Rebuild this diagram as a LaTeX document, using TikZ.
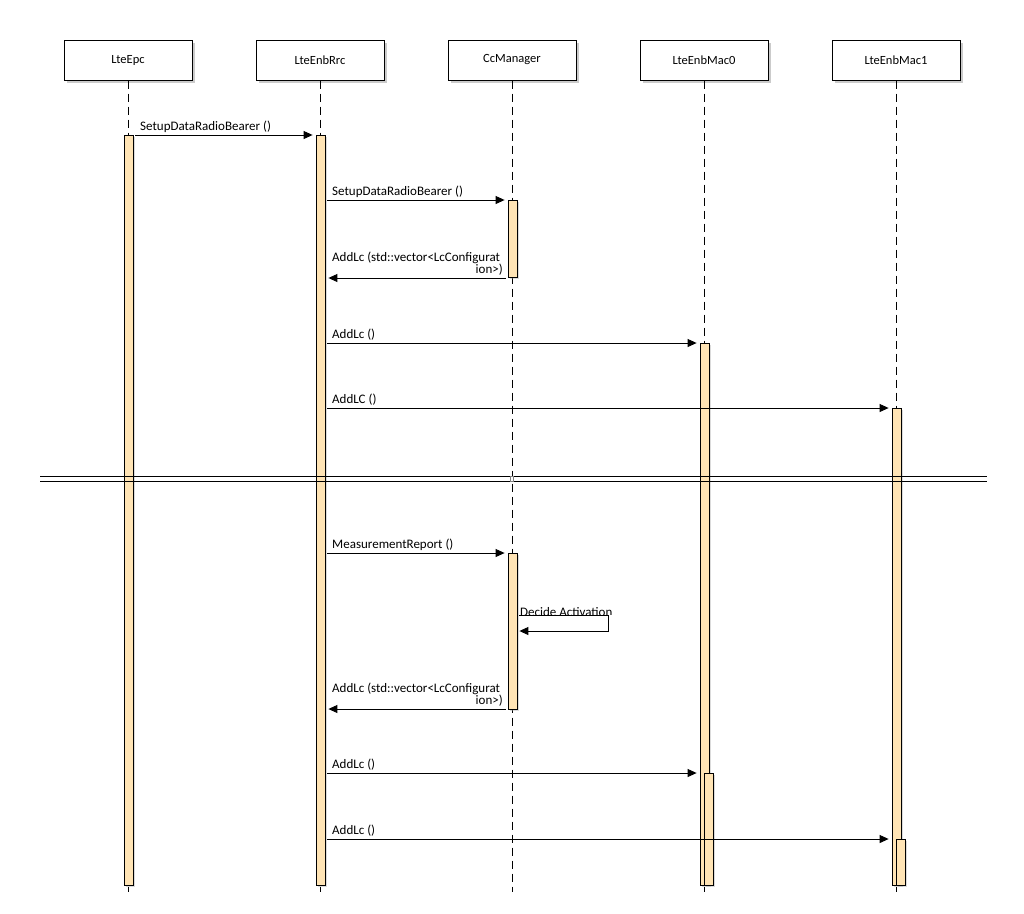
\documentclass[tikz,border=0pt]{standalone}
\usepackage{fontspec}
\setmainfont{Carlito}
\usetikzlibrary{arrows.meta,shadows}
\definecolor{barfill}{RGB}{255,228,181}
\begin{document}
\begin{tikzpicture}[x=1pt,y=-1pt,
  head/.style={draw,line width=1pt,fill=white,minimum width=128pt,minimum height=40pt,inner sep=0pt,
    font=\fontsize{12.5}{14}\selectfont,
    drop shadow={shadow xshift=3pt,shadow yshift=-3pt,fill=black!45,opacity=0.45}},
  life/.style={line width=0.8pt,dash pattern=on 8pt off 5pt},
  bar/.style={draw,line width=0.8pt,fill=barfill,minimum width=9pt,inner sep=0pt,anchor=north,
    drop shadow={shadow xshift=2pt,shadow yshift=-2pt,fill=black!35,opacity=0.4}},
  msg/.style={line width=0.9pt,-{Triangle[length=9pt,width=8pt]}},
  lbl/.style={anchor=base west,inner sep=0pt,font=\fontsize{13}{15}\selectfont},
  lblr/.style={anchor=base east,inner sep=0pt,font=\fontsize{13}{15}\selectfont},
  sep/.style={line width=1pt}
]
\useasboundingbox (0,0) rectangle (1024,913);
\fill[white] (0,0) rectangle (1024,913);

% headers
\node[head] (epc) at (128,60) {LteEpc};
\node[head] (rrc) at (320,60) {LteEnbRrc};
\node[head] (cc)  at (512,60) {CcManager};
\node[head] (mac0) at (704,60) {LteEnbMac0};
\node[head] (mac1) at (896,60) {LteEnbMac1};

% lifelines
\coordinate (epcE) at (128,892);
\coordinate (rrcE) at (320,892);
\coordinate (ccE) at (512,892);
\coordinate (mac0E) at (704,892);
\coordinate (mac1E) at (896,892);
\draw[life] (epc.south) -- (epcE);
\draw[life] (rrc.south) -- (rrcE);
\draw[life] (cc.south) -- (ccE);
\draw[life] (mac0.south) -- (mac0E);
\draw[life] (mac1.south) -- (mac1E);

% activation bars
\node[bar,minimum height=750pt] (epcA) at (128.5,135) {};
\node[bar,minimum height=750pt] (rrcA) at (320.5,135) {};
\node[bar,minimum height=77pt] (ccA) at (512.5,200) {};
\node[bar,minimum height=156pt] (ccB) at (512.5,553) {};
\node[bar,minimum height=542pt] (mac0A) at (704.5,343) {};
\node[bar,minimum height=112pt] (mac0B) at (708.5,773) {};
\node[bar,minimum height=477pt] (mac1A) at (896.5,408) {};
\node[bar,minimum height=46pt] (mac1B) at (900.5,839) {};

% messages
\draw[msg,shorten <=2pt,shorten >=3pt] (epcA.east |- 0,135) -- (rrcA.west |- 0,135);
\node[lbl] (l1) at (140,130) {SetupDataRadioBearer ()};

\draw[msg,shorten <=2pt,shorten >=3pt] (rrcA.east |- 0,200) -- (ccA.west |- 0,200);
\node[lbl] (l2) at (332,195) {SetupDataRadioBearer ()};

\draw[msg,shorten <=2pt,shorten >=3pt] (ccA.west |- 0,278) -- (rrcA.east |- 0,278);
\node[lbl] (l3a) at (332,261) {AddLc (std::vector<LcConfigurat};
\node[lblr] (l3b) at (503,273) {ion>)};

\draw[msg,shorten <=2pt,shorten >=3pt] (rrcA.east |- 0,343) -- (mac0A.west |- 0,343);
\node[lbl] (l4) at (332,338) {AddLc ()};

\draw[msg,shorten <=2pt,shorten >=3pt] (rrcA.east |- 0,408) -- (mac1A.west |- 0,408);
\node[lbl] (l5) at (332,403) {AddLC ()};

% separator
\coordinate (s1a) at (40,476.5);
\coordinate (s1b) at (987,476.5);
\coordinate (s2a) at (40,481);
\coordinate (s2b) at (987,481);
\draw[sep] (s1a) -- (s1b);
\draw[sep] (s2a) -- (s2b);
\draw[black!50,fill=white,line width=0.5pt] (510.5,476.5) rectangle (513.5,481);

\draw[msg,shorten <=2pt,shorten >=3pt] (rrcA.east |- 0,553) -- (ccB.west |- 0,553);
\node[lbl] (l7) at (332,548) {MeasurementReport ()};

% self message
\begin{scope}
\clip (515,590) rectangle (640,614.8);
\node[lbl] (l8) at (520,616.5) {Decide Activation};
\end{scope}
\coordinate (selfA) at (608,615);
\coordinate (selfB) at (608,631);
\draw[msg,shorten <=2pt,shorten >=2pt] (ccB.east |- 0,615) -- (selfA) -- (selfB) -- (ccB.east |- 0,631);

\draw[msg,shorten <=2pt,shorten >=3pt] (ccB.west |- 0,709) -- (rrcA.east |- 0,709);
\node[lbl] (l9a) at (332,692) {AddLc (std::vector<LcConfigurat};
\node[lblr] (l9b) at (503,704) {ion>)};

\draw[msg,shorten <=2pt,shorten >=3pt] (rrcA.east |- 0,773) -- (mac0A.west |- 0,773);
\node[lbl] (l10) at (332,768) {AddLc ()};

\draw[msg,shorten <=2pt,shorten >=3pt] (rrcA.east |- 0,839) -- (mac1A.west |- 0,839);
\node[lbl] (l11) at (332,834) {AddLc ()};
\end{tikzpicture}
\end{document}
